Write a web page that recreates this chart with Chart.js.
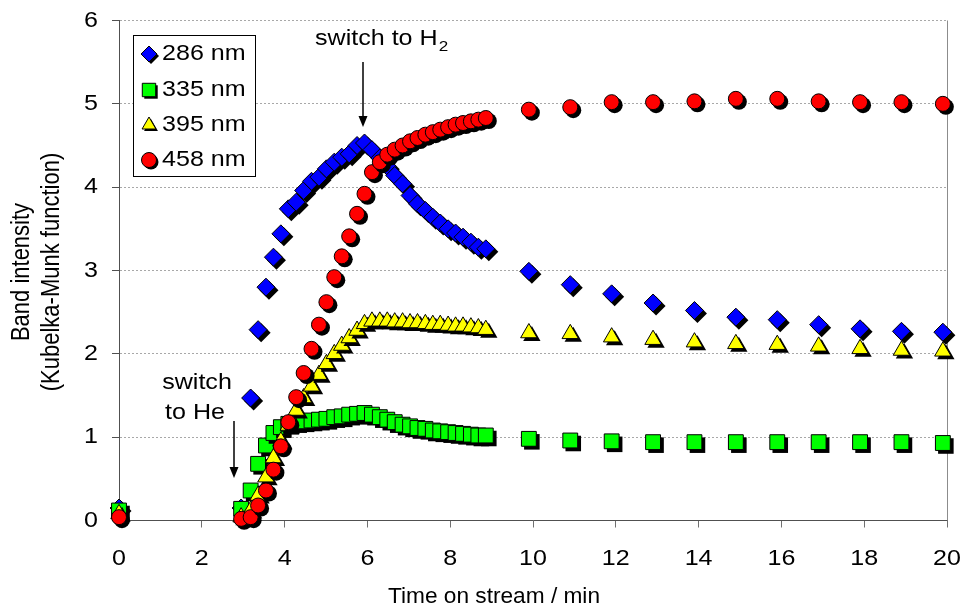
<!DOCTYPE html>
<html>
<head>
<meta charset="utf-8">
<script src="https://cdn.jsdelivr.net/npm/chart.js@4.4.1/dist/chart.umd.min.js"></script>
<style>
  html, body { margin: 0; padding: 0; background: #ffffff; }
  #wrap { width: 966px; height: 613px; position: relative; }
</style>
</head>
<body>
<div id="wrap"><canvas id="chart" width="966" height="613"></canvas></div>
<script>
// Time on stream (min) at which each spectrum was recorded
const timeMin = [
  0,
  2.95, 3.18, 3.36, 3.55, 3.73, 3.91, 4.09, 4.28, 4.46, 4.65, 4.83,
  5.01, 5.20, 5.38, 5.56, 5.75, 5.93, 6.11, 6.30, 6.48, 6.66, 6.85,
  7.03, 7.21, 7.40, 7.58, 7.76, 7.95, 8.13, 8.31, 8.50, 8.68, 8.86,
  9.9, 10.9, 11.9, 12.9, 13.9, 14.9, 15.9, 16.9, 17.9, 18.9, 19.9
];

// Band intensities (Kubelka-Munk function)
const band286 = [
  0.15,
  0.15, 1.47, 2.29, 2.80, 3.16, 3.44, 3.74, 3.82, 3.96, 4.07, 4.12,
  4.22, 4.30, 4.36, 4.40, 4.50, 4.53, 4.45, 4.35, 4.25, 4.14, 4.04,
  3.90, 3.80, 3.72, 3.64, 3.57, 3.50, 3.45, 3.40, 3.34, 3.28, 3.26,
  2.99, 2.83, 2.72, 2.61, 2.52, 2.44, 2.41, 2.35, 2.30, 2.27, 2.26
];
const band335 = [
  0.12,
  0.14, 0.36, 0.68, 0.90, 1.05, 1.12, 1.16, 1.18, 1.19, 1.20, 1.21,
  1.22, 1.24, 1.25, 1.27, 1.28, 1.29, 1.27, 1.24, 1.21, 1.18, 1.15,
  1.13, 1.11, 1.10, 1.08, 1.07, 1.06, 1.05, 1.04, 1.03, 1.02, 1.02,
  0.98, 0.96, 0.95, 0.94, 0.94, 0.94, 0.94, 0.94, 0.94, 0.94, 0.93
];
const band395 = [
  0.08,
  0.04, 0.12, 0.30, 0.52, 0.75, 0.95, 1.14, 1.32, 1.47, 1.61, 1.75,
  1.88, 2.00, 2.10, 2.19, 2.28, 2.36, 2.39, 2.39, 2.39, 2.38, 2.38,
  2.37, 2.37, 2.36, 2.35, 2.35, 2.34, 2.33, 2.33, 2.32, 2.31, 2.29,
  2.25, 2.24, 2.20, 2.17, 2.14, 2.12, 2.11, 2.09, 2.06, 2.04, 2.03
];
const band458 = [
  0.04,
  0.02, 0.04, 0.18, 0.36, 0.61, 0.89, 1.18, 1.48, 1.77, 2.06, 2.35,
  2.62, 2.92, 3.17, 3.41, 3.68, 3.92, 4.18, 4.30, 4.39, 4.45, 4.50,
  4.55, 4.59, 4.63, 4.66, 4.69, 4.72, 4.75, 4.77, 4.79, 4.81, 4.83,
  4.93, 4.96, 5.02, 5.02, 5.03, 5.06, 5.06, 5.03, 5.02, 5.02, 5.00
];

const seriesLabels = ['286 nm', '335 nm', '395 nm', '458 nm'];
const xTickValues = [0, 2, 4, 6, 8, 10, 12, 14, 16, 18, 20];
const yTickValues = [0, 1, 2, 3, 4, 5, 6];
const xTitle = 'Time on stream / min';
const yTitleLines = ['Band intensity', '(Kubelka-Munk function)'];

// marker look per series
const markerStyles = [
  { pointStyle: 'rectRot',  radius: 9,    color: '#0000ff' },
  { pointStyle: 'rect',     radius: 10.5, color: '#00ff00' },
  { pointStyle: 'triangle', radius: 9.5,  color: '#ffff00' },
  { pointStyle: 'circle',   radius: 7.5,  color: '#ff0000' }
];
const seriesValues = [band286, band335, band395, band458];

const TEXT_FONT = '22px "Liberation Sans", Arial, sans-serif';
const SUB_FONT = '15px "Liberation Sans", Arial, sans-serif';
const STRETCH = 1.14;   // horizontal text stretch
const SHADOW = 3;       // marker shadow offset

function markerPath(ctx, style, x, y, r) {
  ctx.beginPath();
  if (style === 'circle') {
    ctx.arc(x, y, r, 0, Math.PI * 2);
  } else if (style === 'rect') {
    const s = Math.SQRT1_2 * r;
    ctx.rect(x - s, y - s, 2 * s, 2 * s);
  } else if (style === 'rectRot') {
    ctx.moveTo(x - r, y); ctx.lineTo(x, y - r); ctx.lineTo(x + r, y); ctx.lineTo(x, y + r);
    ctx.closePath();
  } else if (style === 'triangle') {
    ctx.moveTo(x, y - r);
    ctx.lineTo(x + Math.sin(2 * Math.PI / 3) * r, y + 0.5 * r);
    ctx.lineTo(x - Math.sin(2 * Math.PI / 3) * r, y + 0.5 * r);
    ctx.closePath();
  }
}

function textAt(ctx, text, x, y, align, font, stretch) {
  const sx = stretch || STRETCH;
  ctx.save();
  ctx.font = font || TEXT_FONT;
  const w = ctx.measureText(text).width * sx;
  let left = x;
  if (align === 'center') left = x - w / 2;
  else if (align === 'right') left = x - w;
  ctx.translate(left, y);
  ctx.scale(sx, 1);
  ctx.textAlign = 'left';
  ctx.textBaseline = 'middle';
  ctx.fillStyle = '#000';
  ctx.fillText(text, 0, 0);
  ctx.restore();
  return w;
}

function verticalText(ctx, text, x, y) {
  ctx.save();
  ctx.font = TEXT_FONT;
  ctx.translate(x, y);
  ctx.scale(STRETCH, 1);
  ctx.rotate(-Math.PI / 2);
  ctx.textAlign = 'center';
  ctx.textBaseline = 'middle';
  ctx.fillStyle = '#000';
  ctx.fillText(text, 0, 0);
  ctx.restore();
}

function downArrow(ctx, x, y1, y2) {
  ctx.save();
  ctx.strokeStyle = '#000';
  ctx.fillStyle = '#000';
  ctx.lineWidth = 1.5;
  ctx.beginPath(); ctx.moveTo(x, y1); ctx.lineTo(x, y2 - 8); ctx.stroke();
  ctx.beginPath(); ctx.moveTo(x - 4.5, y2 - 11); ctx.lineTo(x + 4.5, y2 - 11); ctx.lineTo(x, y2); ctx.closePath(); ctx.fill();
  ctx.restore();
}

// each marker is drawn right after its own drop shadow
const shadowedMarkers = {
  id: 'shadowedMarkers',
  beforeDatasetDraw(chart, args) {
    const ctx = chart.ctx;
    const ds = chart.data.datasets[args.index];
    args.meta.data.forEach(pt => {
      const p = pt.getProps(['x', 'y'], true);
      ctx.save();
      ctx.fillStyle = '#000';
      markerPath(ctx, ds.pointStyle, p.x + SHADOW, p.y + SHADOW, ds.pointRadius + 0.5);
      ctx.fill();
      ctx.restore();
      pt.draw(ctx, chart.chartArea);
    });
    return false;
  }
};

const decorations = {
  id: 'decorations',
  beforeDatasetsDraw(chart) {
    const ctx = chart.ctx;
    const a = chart.chartArea;
    ctx.save();
    ctx.strokeStyle = '#8c8c8c';
    ctx.lineWidth = 1;
    ctx.beginPath();
    ctx.moveTo(Math.round(a.right) + 0.5, a.top);
    ctx.lineTo(Math.round(a.right) + 0.5, a.bottom);
    ctx.stroke();
    ctx.restore();
  },
  afterDraw(chart) {
    const ctx = chart.ctx;
    const xs = chart.scales.x, ys = chart.scales.y;

    // tick labels
    yTickValues.forEach(v => textAt(ctx, String(v), 98, ys.getPixelForValue(v), 'right'));
    xTickValues.forEach(v => textAt(ctx, String(v), xs.getPixelForValue(v), 559, 'center'));

    // axis titles
    textAt(ctx, xTitle, 494, 597, 'center', TEXT_FONT, 1.03);
    verticalText(ctx, yTitleLines[0], 22, 272);
    verticalText(ctx, yTitleLines[1], 52, 272);

    // legend
    const lx = 133.5, ly = 35.5, lw = 122, lh = 141;
    ctx.save();
    ctx.fillStyle = '#fff';
    ctx.fillRect(lx, ly, lw, lh);
    ctx.strokeStyle = '#000';
    ctx.lineWidth = 1;
    ctx.strokeRect(lx, ly, lw, lh);
    ctx.restore();
    const rowY = [54, 90, 125, 160];
    markerStyles.forEach((m, i) => {
      const r = Math.min(m.radius, m.pointStyle === 'rect' ? 9.5 : 8);
      ctx.save();
      ctx.fillStyle = '#000';
      markerPath(ctx, m.pointStyle, 149 + 2, rowY[i] + 2, r);
      ctx.fill();
      ctx.fillStyle = m.color;
      ctx.strokeStyle = '#000';
      ctx.lineWidth = 1;
      markerPath(ctx, m.pointStyle, 149, rowY[i], r);
      ctx.fill();
      ctx.stroke();
      ctx.restore();
      textAt(ctx, seriesLabels[i], 162, rowY[i], 'left');
    });

    // gas switch annotations
    const w = textAt(ctx, 'switch to H', 315, 39, 'left');
    textAt(ctx, '2', 315 + w + 1, 47, 'left', SUB_FONT);
    downArrow(ctx, 363, 62, 127);
    textAt(ctx, 'switch', 197, 383, 'center');
    textAt(ctx, 'to He', 195, 413, 'center');
    downArrow(ctx, 234, 421, 478);
  }
};

const datasets = seriesValues.map((vals, i) => ({
  label: seriesLabels[i],
  data: timeMin.map((t, k) => ({ x: t, y: vals[k] })),
  pointStyle: markerStyles[i].pointStyle,
  pointRadius: markerStyles[i].radius,
  pointBackgroundColor: markerStyles[i].color,
  pointBorderColor: '#000000',
  pointBorderWidth: 1,
  showLine: false,
  order: seriesValues.length - i
}));

new Chart(document.getElementById('chart'), {
  type: 'scatter',
  data: { datasets },
  options: {
    responsive: false,
    animation: false,
    devicePixelRatio: 1,
    layout: { padding: { left: 0, right: 19, top: 20.5, bottom: 0 } },
    plugins: { legend: { display: false }, tooltip: { enabled: false } },
    scales: {
      x: {
        type: 'linear', min: 0, max: 20,
        ticks: { stepSize: 2, display: false },
        grid: { drawOnChartArea: false, drawTicks: true, tickLength: 7, tickColor: '#707070' },
        border: { color: '#505050', width: 1 },
        afterFit(scale) { scale.height = 92.5; }
      },
      y: {
        min: 0, max: 6,
        ticks: { stepSize: 1, display: false },
        grid: { color: '#a8a8a8', lineWidth: 1, drawTicks: true, tickLength: 7, tickColor: '#505050' },
        border: { color: '#505050', width: 1, dash: [2, 2] },
        afterFit(scale) { scale.width = 119; }
      }
    }
  },
  plugins: [shadowedMarkers, decorations]
});
</script>
</body>
</html>
